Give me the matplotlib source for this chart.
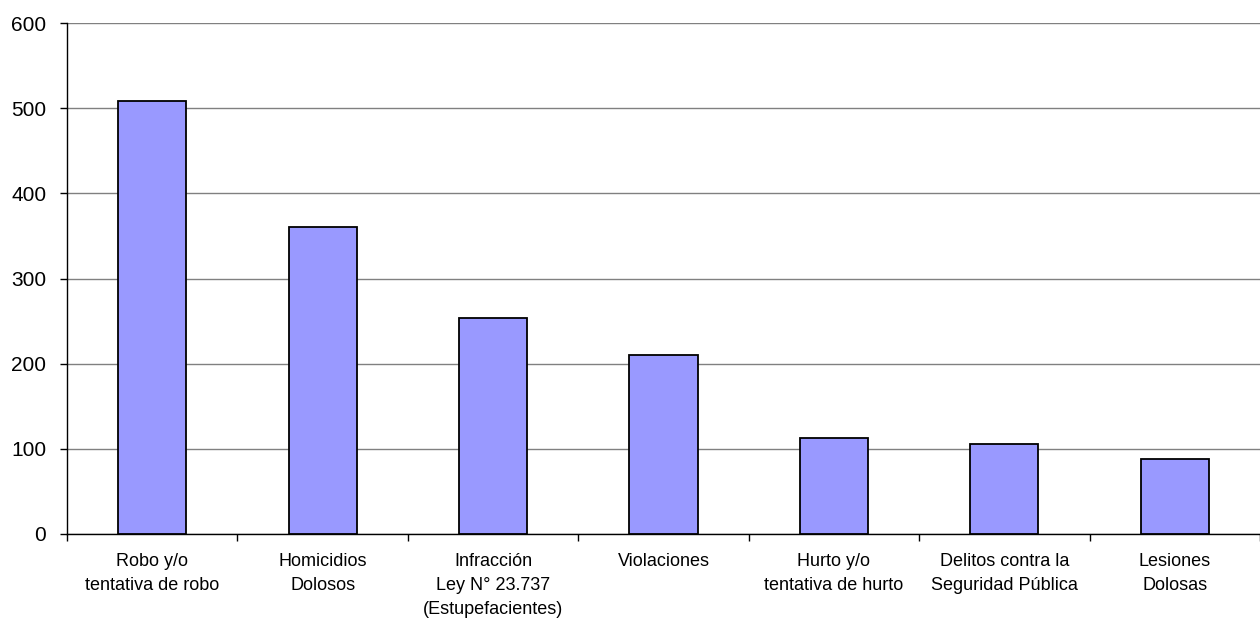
import matplotlib.pyplot as plt
import numpy as np
from matplotlib.ticker import FixedLocator

plt.rcParams["font.family"] = ["Liberation Sans", "DejaVu Sans"]

categories = [
    "Robo y/o\ntentativa de robo",
    "Homicidios\nDolosos",
    "Infracción\nLey N° 23.737\n(Estupefacientes)",
    "Violaciones",
    "Hurto y/o\ntentativa de hurto",
    "Delitos contra la\nSeguridad Pública",
    "Lesiones\nDolosas",
]
values = [509, 360, 254, 210, 112, 105, 88]
y_ticks = [0, 100, 200, 300, 400, 500, 600]

fig = plt.figure(figsize=(12.6, 6.2), dpi=100)
ax = fig.add_axes([0.0532, 0.1392, 0.9468, 0.8232])

x = np.arange(len(categories))
ax.bar(x, values, width=0.4, color="#9999FF", edgecolor="black", linewidth=1.3, zorder=3)

ax.set_xlim(-0.5, len(categories) - 0.5)
ax.set_ylim(0, 600)
ax.set_yticks(y_ticks)
ax.yaxis.grid(True, color="#808080", linewidth=1.0, zorder=0)

ax.set_xticks(x)
ax.set_xticklabels(categories, fontsize=13, linespacing=1.52)
ax.xaxis.set_minor_locator(FixedLocator(np.arange(-0.5, len(categories), 1.0)))
ax.tick_params(axis="x", which="major", length=0, pad=14)
ax.tick_params(axis="x", which="minor", length=5, width=1, color="black", direction="out")
ax.tick_params(axis="y", length=5, width=1, pad=10, labelsize=15, direction="out")

for s in ["top", "right"]:
    ax.spines[s].set_visible(False)
ax.spines["left"].set_linewidth(1.0)
ax.spines["bottom"].set_linewidth(1.0)

fig.savefig("out.png", dpi=100)
